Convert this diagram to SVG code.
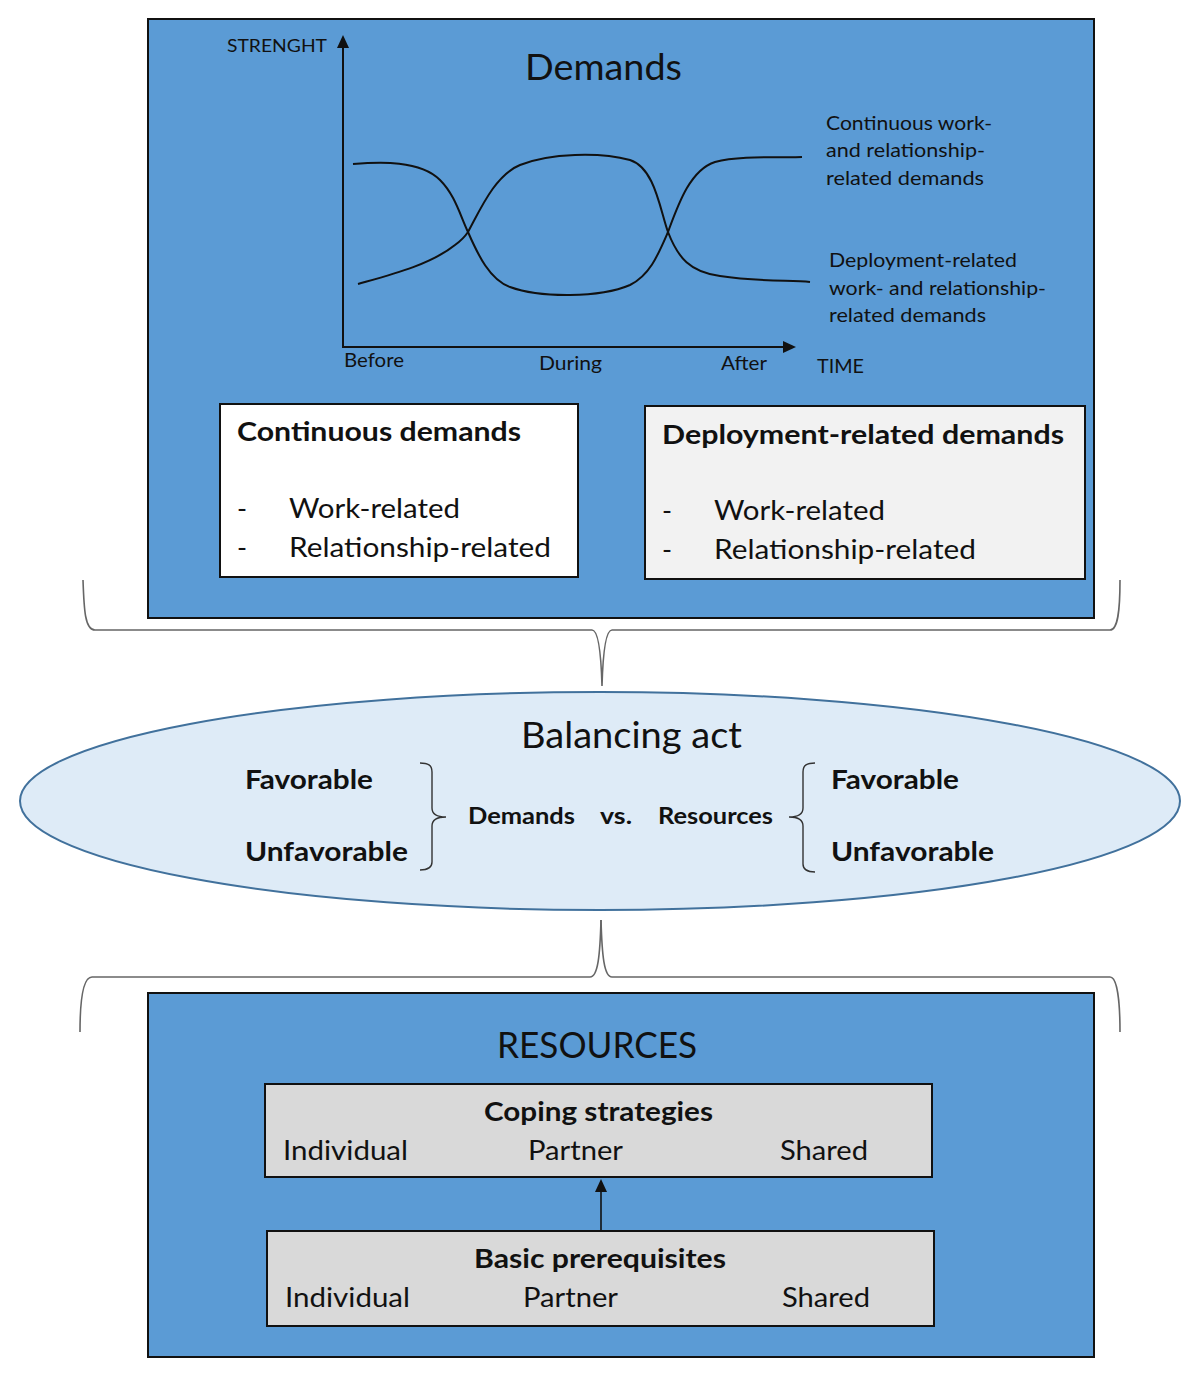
<svg xmlns="http://www.w3.org/2000/svg" width="1200" height="1378" viewBox="0 0 1200 1378">
<style>
text{font-family:Lato,"Liberation Sans",sans-serif;fill:#111;}
.b{font-weight:bold;}
.panel{fill:#5B9BD5;stroke:#111;stroke-width:2;}
.box{stroke:#111;stroke-width:2;}
.ln{fill:none;stroke:#111;stroke-width:2;}
.brace{fill:none;stroke:#666;stroke-width:1.6;}
.br2{fill:none;stroke:#333;stroke-width:1.4;}
</style>
<rect width="1200" height="1378" fill="#fff"/>
<g id="demands-panel">
<rect class="panel" x="148" y="19" width="946" height="599"/>
<text x="227" y="52" font-size="18" textLength="100" lengthAdjust="spacingAndGlyphs">STRENGHT</text>
<text x="525" y="80" font-size="36" textLength="157" lengthAdjust="spacingAndGlyphs">Demands</text>
</g>
<g id="chart">
<line class="ln" x1="343" y1="348" x2="343" y2="46"/>
<polygon points="343,35 337,48 349,48" fill="#111"/>
<line class="ln" x1="343" y1="347" x2="784" y2="347"/>
<polygon points="796,347 783,341 783,353" fill="#111"/>
<path class="ln" d="M353,164 C380,162 420,160 440,180 C455,195 460,215 468,232 C478,255 490,280 510,287 C540,298 600,298 630,285 C650,275 658,255 668,232 C678,205 690,170 715,162 C740,155 780,158 802,157"/>
<path class="ln" d="M358,284 C390,275 430,265 455,245 C462,240 466,235 468,232 C480,210 495,175 520,165 C550,153 600,152 630,160 C655,168 660,210 668,232 C678,258 690,272 720,276 C760,282 790,280 810,282"/>
<text x="826" y="130" font-size="19" textLength="166" lengthAdjust="spacingAndGlyphs">Continuous work-</text>
<text x="826" y="157" font-size="19" textLength="159" lengthAdjust="spacingAndGlyphs">and relationship-</text>
<text x="826" y="185" font-size="19" textLength="158" lengthAdjust="spacingAndGlyphs">related demands</text>
<text x="829" y="267" font-size="19" textLength="188" lengthAdjust="spacingAndGlyphs">Deployment-related</text>
<text x="829" y="295" font-size="19" textLength="217" lengthAdjust="spacingAndGlyphs">work- and relationship-</text>
<text x="829" y="322" font-size="19" textLength="157" lengthAdjust="spacingAndGlyphs">related demands</text>
<text x="344" y="367" font-size="19" textLength="60" lengthAdjust="spacingAndGlyphs">Before</text>
<text x="539" y="370" font-size="19" textLength="63" lengthAdjust="spacingAndGlyphs">During</text>
<text x="721" y="370" font-size="19" textLength="46" lengthAdjust="spacingAndGlyphs">After</text>
<text x="817" y="373" font-size="19" textLength="47" lengthAdjust="spacingAndGlyphs">TIME</text>
</g>
<g id="continuous-demands">
<rect class="box" x="220" y="404" width="358" height="173" fill="#fff"/>
<text class="b" x="237" y="441" font-size="26" textLength="284" lengthAdjust="spacingAndGlyphs">Continuous demands</text>
<text x="237" y="518" font-size="27">-</text>
<text x="289" y="518" font-size="27" textLength="171" lengthAdjust="spacingAndGlyphs">Work-related</text>
<text x="237" y="557" font-size="27">-</text>
<text x="289" y="557" font-size="27" textLength="262" lengthAdjust="spacingAndGlyphs">Relationship-related</text>
</g>
<g id="deployment-demands">
<rect class="box" x="645" y="406" width="440" height="173" fill="#F2F2F2"/>
<text class="b" x="662" y="444" font-size="26" textLength="402" lengthAdjust="spacingAndGlyphs">Deployment-related demands</text>
<text x="662" y="520" font-size="27">-</text>
<text x="714" y="520" font-size="27" textLength="171" lengthAdjust="spacingAndGlyphs">Work-related</text>
<text x="662" y="559" font-size="27">-</text>
<text x="714" y="559" font-size="27" textLength="262" lengthAdjust="spacingAndGlyphs">Relationship-related</text>
</g>
<g id="balancing-act">
<ellipse cx="600" cy="801" rx="580" ry="109" fill="#DEEBF7" stroke="#41719C" stroke-width="2"/>
<text x="521" y="748" font-size="36" textLength="221" lengthAdjust="spacingAndGlyphs">Balancing act</text>
<text class="b" x="245" y="789" font-size="26" textLength="128" lengthAdjust="spacingAndGlyphs">Favorable</text>
<text class="b" x="245" y="861" font-size="26" textLength="163" lengthAdjust="spacingAndGlyphs">Unfavorable</text>
<path class="br2" d="M420,763 C428,763 432,765 432,772 L432,808 C432,814 436,817 446,817 C436,817 432,820 432,826 L432,862 C432,868 428,870 420,870"/>
<text class="b" x="468" y="824" font-size="22" textLength="107" lengthAdjust="spacingAndGlyphs">Demands</text>
<text class="b" x="600" y="824" font-size="22" textLength="32" lengthAdjust="spacingAndGlyphs">vs.</text>
<text class="b" x="658" y="824" font-size="22" textLength="115" lengthAdjust="spacingAndGlyphs">Resources</text>
<path class="br2" d="M815,763 C807,763 803,765 803,772 L803,808 C803,814 799,817 789,817 C799,817 803,820 803,826 L803,864 C803,870 807,872 815,872"/>
<text class="b" x="831" y="789" font-size="26" textLength="128" lengthAdjust="spacingAndGlyphs">Favorable</text>
<text class="b" x="831" y="861" font-size="26" textLength="163" lengthAdjust="spacingAndGlyphs">Unfavorable</text>
</g>
<g id="resources-panel">
<rect class="panel" x="148" y="993" width="946" height="364"/>
<text x="497" y="1058" font-size="36" textLength="200" lengthAdjust="spacingAndGlyphs">RESOURCES</text>
</g>
<g id="coping-strategies">
<rect class="box" x="265" y="1084" width="667" height="93" fill="#D9D9D9"/>
<text class="b" x="484" y="1121" font-size="26" textLength="229" lengthAdjust="spacingAndGlyphs">Coping strategies</text>
<text x="283" y="1160" font-size="27" textLength="125" lengthAdjust="spacingAndGlyphs">Individual</text>
<text x="528" y="1160" font-size="27" textLength="95" lengthAdjust="spacingAndGlyphs">Partner</text>
<text x="780" y="1160" font-size="27" textLength="88" lengthAdjust="spacingAndGlyphs">Shared</text>
</g>
<g id="basic-prerequisites">
<rect class="box" x="267" y="1231" width="667" height="95" fill="#D9D9D9"/>
<text class="b" x="474" y="1268" font-size="26" textLength="252" lengthAdjust="spacingAndGlyphs">Basic prerequisites</text>
<text x="285" y="1307" font-size="27" textLength="125" lengthAdjust="spacingAndGlyphs">Individual</text>
<text x="523" y="1307" font-size="27" textLength="95" lengthAdjust="spacingAndGlyphs">Partner</text>
<text x="782" y="1307" font-size="27" textLength="88" lengthAdjust="spacingAndGlyphs">Shared</text>
</g>
<g id="connectors">
<path class="brace" d="M83,580 C84,610 85,630 95,630 L592,630 C598,630 601,650 602,686 C603,650 606,630 612,630 L1110,630 C1118,630 1120,610 1120,580"/>
<path class="brace" d="M601,920 C600,955 598,977 590,977 L92,977 C83,977 80,1000 80,1032"/>
<path class="brace" d="M601,920 C602,955 604,977 612,977 L1110,977 C1117,977 1120,1000 1120,1032"/>
<line x1="601" y1="1230" x2="601" y2="1191" stroke="#111" stroke-width="1.6"/>
<polygon points="601,1179 595,1192 607,1192" fill="#111"/>
</g>
</svg>
